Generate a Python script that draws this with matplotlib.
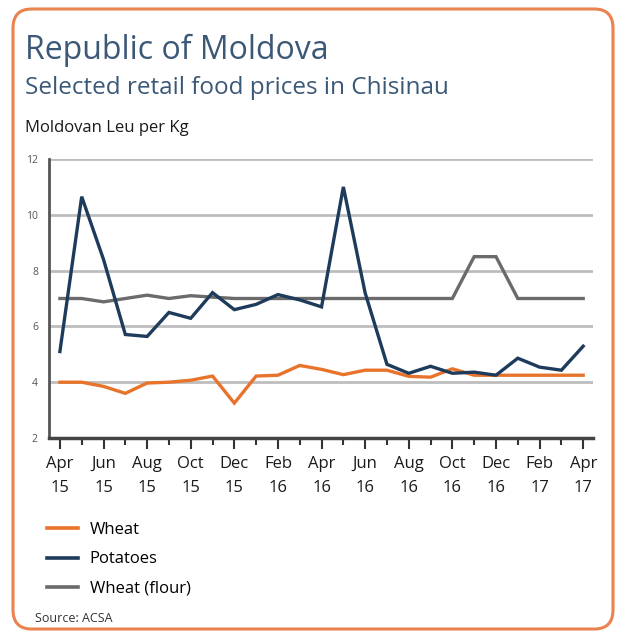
import numpy as np
import matplotlib.pyplot as plt
from matplotlib.patches import FancyBboxPatch
from matplotlib.lines import Line2D

months = ["Apr\n15", "", "Jun\n15", "", "Aug\n15", "", "Oct\n15", "", "Dec\n15", "",
          "Feb\n16", "", "Apr\n16", "", "Jun\n16", "", "Aug\n16", "", "Oct\n16", "",
          "Dec\n16", "", "Feb\n17", "", "Apr\n17"]

wheat = [4.0, 4.0, 3.85, 3.6, 3.97, 4.0, 4.07, 4.22, 3.25, 4.22, 4.25, 4.6, 4.46,
         4.27, 4.43, 4.43, 4.21, 4.18, 4.48, 4.25, 4.25, 4.25, 4.25, 4.25, 4.25]
potatoes = [5.1, 10.65, 8.4, 5.71, 5.64, 6.5, 6.29, 7.21, 6.6, 6.79, 7.14, 6.95, 6.7,
            11.0, 7.2, 4.64, 4.32, 4.57, 4.32, 4.36, 4.25, 4.86, 4.54, 4.43, 5.29]
flour = [7.0, 7.0, 6.88, 7.0, 7.12, 7.0, 7.1, 7.05, 7.0, 7.0, 7.0, 7.0, 7.0,
         7.0, 7.0, 7.0, 7.0, 7.0, 7.0, 8.5, 8.5, 7.0, 7.0, 7.0, 7.0]

series_names = ["Wheat", "Potatoes", "Wheat (flour)"]
colors = ["#e8742c", "#1f3b5c", "#6b6b6b"]

plt.rcParams["font.family"] = ["Open Sans", "DejaVu Sans"]

fig = plt.figure(figsize=(6.19, 6.39), dpi=100)

# rounded orange frame, kept behind the axes
frame = FancyBboxPatch((13 / 619, 10 / 639), 600 / 619, 620 / 639,
                       boxstyle="round,pad=0,rounding_size=0.03",
                       transform=fig.transFigure, facecolor="white",
                       edgecolor="#ea8350", linewidth=2.2, zorder=-1)
fig.patches.append(frame)

fig.text(25 / 619, 1 - 50 / 639, "Republic of Moldova", fontsize=23,
         color="#3b5877", va="center", ha="left")
fig.text(25 / 619, 1 - 88 / 639, "Selected retail food prices in Chisinau",
         fontsize=17.5, color="#3b5877", va="center", ha="left")
fig.text(25 / 619, 1 - 128 / 639, "Moldovan Leu per Kg", fontsize=12,
         color="#1a1a1a", va="center", ha="left")

ax = fig.add_axes([49 / 619, 1 - 438 / 639, 544 / 619, 279 / 639])
ax.set_facecolor("none")
x = np.arange(len(months))

for vals, c in zip([flour, wheat, potatoes], [colors[2], colors[0], colors[1]]):
    ax.plot(x, vals, color=c, linewidth=2.4, solid_joinstyle="miter", zorder=3)

ax.set_xlim(-0.5, 24.45)
ax.set_ylim(2, 12)
ax.set_yticks([2, 4, 6, 8, 10, 12])
ax.yaxis.grid(True, color="#bdbdbd", linewidth=2)
ax.set_axisbelow(True)

ax.set_xticks(x[::2])
ax.set_xticklabels([m for m in months if m])
ax.set_xticks(x, minor=True)
ax.tick_params(axis="x", which="major", length=8, width=1.5, color="#333333",
               labelsize=12, pad=5, labelcolor="#1a1a1a")
ax.tick_params(axis="x", which="minor", length=5, width=1.5, color="#333333")
ax.tick_params(axis="y", length=0, labelsize=7.5, labelcolor="#555555", pad=8)
for lab in ax.get_xticklabels():
    lab.set_linespacing(1.65)

for s in ["top", "right"]:
    ax.spines[s].set_visible(False)
ax.spines["left"].set_color("#555555")
ax.spines["left"].set_linewidth(2)
ax.spines["bottom"].set_color("#444444")
ax.spines["bottom"].set_linewidth(2.5)

handles = [Line2D([], [], color=c, linewidth=2.6) for c in colors]
fig.legend(handles, series_names, loc="upper left",
           bbox_to_anchor=(47 / 619, 1 - 522 / 639), frameon=False,
           fontsize=12, handlelength=1.85, handletextpad=0.7, labelspacing=0.8,
           borderaxespad=0, borderpad=0)

fig.text(35 / 619, 1 - 618 / 639, "Source: ACSA", fontsize=9, color="#333333",
         va="center", ha="left")

fig.savefig("out.png", dpi=100, facecolor="white")
